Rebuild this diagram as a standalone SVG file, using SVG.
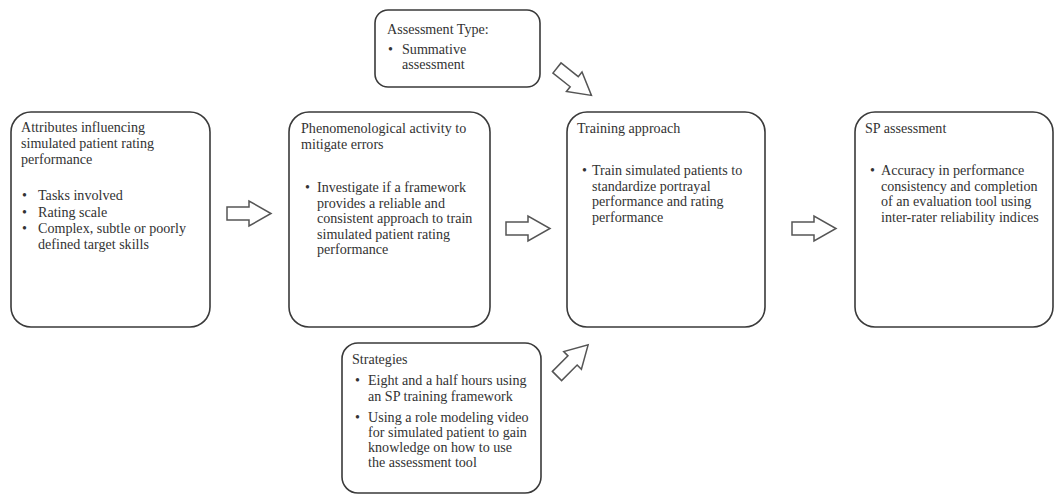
<svg xmlns="http://www.w3.org/2000/svg" width="1059" height="496" viewBox="0 0 1059 496">
  <style>
    .box { fill: #ffffff; stroke: #3a3a3a; stroke-width: 1.6; }
    .arrow { fill: #ffffff; stroke: #555555; stroke-width: 1.5; stroke-linejoin: miter; }
    text { font-family: "Liberation Serif", "Times New Roman", serif; font-size: 14.1px; fill: #333333; }
  </style>
  <defs>
    <!-- block arrow, tail centre at origin, pointing along +x -->
    <path id="blockArrow" d="M0,-6.5 H22 V-12.5 L44,0 L22,12.5 V6.5 H0 Z"/>
  </defs>
  <rect width="1059" height="496" fill="#ffffff"/>

  <g id="connectors">
    <use href="#blockArrow" class="arrow" transform="translate(227,213.5)"/>
    <use href="#blockArrow" class="arrow" transform="translate(506,228.5)"/>
    <use href="#blockArrow" class="arrow" transform="translate(792,228.5)"/>
    <use href="#blockArrow" class="arrow" transform="translate(557,68) rotate(38.5)"/>
    <use href="#blockArrow" class="arrow" transform="translate(557,376) rotate(-45)"/>
  </g>

  <g id="attributes">
    <rect class="box" x="11" y="112" width="199" height="215" rx="20"/>
    <text x="21" y="132">Attributes influencing</text>
    <text x="21" y="148">simulated patient rating</text>
    <text x="21" y="164">performance</text>
    <text x="22" y="200">•</text><text x="38" y="200">Tasks involved</text>
    <text x="22" y="216.5">•</text><text x="38" y="216.5">Rating scale</text>
    <text x="22" y="233">•</text><text x="38" y="233">Complex, subtle or poorly</text>
    <text x="38" y="249">defined target skills</text>
  </g>

  <g id="phenomenological">
    <rect class="box" x="289" y="112" width="201" height="215" rx="20"/>
    <text x="301" y="133">Phenomenological activity to</text>
    <text x="301" y="148.5">mitigate errors</text>
    <text x="305" y="192">•</text><text x="317" y="192">Investigate if a framework</text>
    <text x="317" y="207.5">provides a reliable and</text>
    <text x="317" y="223">consistent approach to train</text>
    <text x="317" y="238.5">simulated patient rating</text>
    <text x="317" y="254">performance</text>
  </g>

  <g id="training">
    <rect class="box" x="567" y="112" width="198" height="215" rx="20"/>
    <text x="577" y="133">Training approach</text>
    <text x="582" y="175">•</text><text x="592" y="175">Train simulated patients to</text>
    <text x="592" y="190.5">standardize portrayal</text>
    <text x="592" y="206">performance and rating</text>
    <text x="592" y="221.5">performance</text>
  </g>

  <g id="sp-assessment">
    <rect class="box" x="855" y="112" width="198" height="215" rx="20"/>
    <text x="865" y="133">SP assessment</text>
    <text x="870" y="175">•</text><text x="881" y="175">Accuracy in performance</text>
    <text x="881" y="190.5">consistency and completion</text>
    <text x="881" y="206">of an evaluation tool using</text>
    <text x="881" y="221.5">inter-rater reliability indices</text>
  </g>

  <g id="assessment-type">
    <rect class="box" x="375" y="10" width="165" height="77" rx="13"/>
    <text x="387" y="34">Assessment Type:</text>
    <text x="388" y="54">•</text><text x="402" y="54">Summative</text>
    <text x="402" y="69">assessment</text>
  </g>

  <g id="strategies">
    <rect class="box" x="342" y="343" width="199" height="150" rx="16"/>
    <text x="352" y="364">Strategies</text>
    <text x="355" y="385">•</text><text x="368" y="385">Eight and a half hours using</text>
    <text x="368" y="401">an SP training framework</text>
    <text x="355" y="422">•</text><text x="368" y="422">Using a role modeling video</text>
    <text x="368" y="437">for simulated patient to gain</text>
    <text x="368" y="452">knowledge on how to use</text>
    <text x="368" y="467">the assessment tool</text>
  </g>
</svg>
